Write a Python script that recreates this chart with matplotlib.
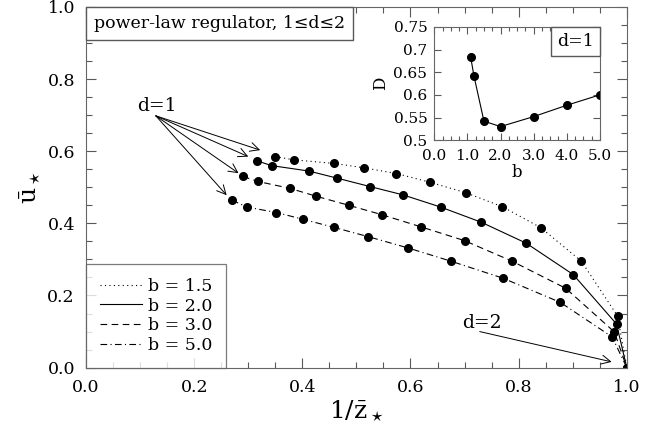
import matplotlib
matplotlib.use("Agg")
import matplotlib.pyplot as plt
from matplotlib.offsetbox import AnchoredText
from matplotlib.ticker import MultipleLocator

# main panel: 1/z* vs u*, one curve per b
b15_x = [0.350, 0.384, 0.459, 0.514, 0.574, 0.636, 0.702, 0.770, 0.841, 0.916, 0.983, 1.0]
b15_y = [0.585, 0.576, 0.566, 0.554, 0.538, 0.514, 0.485, 0.446, 0.388, 0.295, 0.143, 0.0]
b20_x = [0.317, 0.343, 0.412, 0.465, 0.525, 0.586, 0.656, 0.731, 0.814, 0.901, 0.981, 1.0]
b20_y = [0.573, 0.560, 0.545, 0.525, 0.502, 0.479, 0.445, 0.403, 0.345, 0.258, 0.121, 0.0]
b30_x = [0.290, 0.318, 0.377, 0.426, 0.486, 0.547, 0.620, 0.700, 0.788, 0.887, 0.977, 1.0]
b30_y = [0.530, 0.516, 0.497, 0.475, 0.450, 0.424, 0.390, 0.352, 0.295, 0.220, 0.099, 0.0]
b50_x = [0.270, 0.298, 0.352, 0.402, 0.458, 0.522, 0.595, 0.675, 0.771, 0.877, 0.973, 1.0]
b50_y = [0.464, 0.445, 0.430, 0.411, 0.389, 0.363, 0.332, 0.295, 0.248, 0.181, 0.085, 0.0]
labels = ["b = 1.5", "b = 2.0", "b = 3.0", "b = 5.0"]

# inset: D vs b at d=1
b_vals = [1.1, 1.2, 1.5, 2.0, 3.0, 4.0, 5.0]
D_vals = [0.683, 0.641, 0.542, 0.530, 0.552, 0.577, 0.600]

# arrow annotations
d1_tips_x = [0.322, 0.300, 0.282, 0.260]
d1_tips_y = [0.603, 0.585, 0.539, 0.478]

plt.rcParams["font.family"] = "DejaVu Serif"
plt.rcParams["mathtext.fontset"] = "dejavuserif"

fig = plt.figure(figsize=(6.57, 4.30), dpi=100)
ax = fig.add_axes([0.131, 0.145, 0.823, 0.839])

series = [(b15_x, b15_y, (0, (1, 3))), (b20_x, b20_y, "-"),
          (b30_x, b30_y, (0, (6, 4))), (b50_x, b50_y, (0, (6, 3, 1, 3)))]
for (xs, ys, ls), lab in zip(series, labels):
    ax.plot(xs, ys, color="k", lw=0.8, ls=ls, label=lab)
    ax.plot(xs, ys, "o", color="k", ms=5.5, ls="none")

ax.set_xlim(0, 1)
ax.set_ylim(0, 1)
ax.xaxis.set_major_locator(MultipleLocator(0.2))
ax.xaxis.set_minor_locator(MultipleLocator(0.05))
ax.yaxis.set_major_locator(MultipleLocator(0.2))
ax.yaxis.set_minor_locator(MultipleLocator(0.05))
ax.xaxis.set_major_formatter(lambda v, p: f"{v:.1f}")
ax.yaxis.set_major_formatter(lambda v, p: f"{v:.1f}")
ax.tick_params(which="both", direction="in", top=True, right=True, labelsize=12.5,
               color="0.35", pad=8)
ax.tick_params(which="major", length=7, width=0.8)
ax.tick_params(which="minor", length=4, width=0.8)
for s in ax.spines.values():
    s.set_color("0.4")
ax.set_xlabel(r"$1/\bar{\mathrm{z}}_\star$", fontsize=18, labelpad=2)
ax.set_ylabel(r"$\bar{\mathrm{u}}_\star$", fontsize=18, labelpad=4)

leg = ax.legend(loc="lower left", borderaxespad=0, fancybox=False, fontsize=12.5,
                handlelength=2.4, labelspacing=0.15, borderpad=0.8, handletextpad=0.35)
leg.get_frame().set_edgecolor("0.35")
leg.get_frame().set_linewidth(0.9)

tb = AnchoredText("power-law regulator, 1\u2264d\u22642", loc="upper left", borderpad=0,
                  prop=dict(size=12.5), pad=0.45)
tb.patch.set_boxstyle("square,pad=0")
tb.patch.set_edgecolor("0.35")
ax.add_artist(tb)

ax.text(0.131, 0.700, "d=1", ha="center", va="bottom", fontsize=13.5)
for tx, ty in zip(d1_tips_x, d1_tips_y):
    ax.annotate("", xy=(tx, ty), xytext=(0.129, 0.698),
                arrowprops=dict(arrowstyle="->", lw=0.7, mutation_scale=16, shrinkA=0, shrinkB=0))
ax.text(0.732, 0.098, "d=2", ha="center", va="bottom", fontsize=13.5)
ax.annotate("", xy=(0.972, 0.016), xytext=(0.728, 0.100),
            arrowprops=dict(arrowstyle="->", lw=0.7, mutation_scale=16, shrinkA=0, shrinkB=0))

# inset
ins = fig.add_axes([0.661, 0.674, 0.252, 0.2635])
ins.plot(b_vals, D_vals, "-o", color="k", lw=0.8, ms=5.5)
ins.set_xlim(0, 5)
ins.set_ylim(0.5, 0.75)
ins.xaxis.set_minor_locator(MultipleLocator(0.25))
ins.set_xticks([0, 1, 2, 3, 4, 5])
ins.set_xticklabels(["0.0", "1.0", "2.0", "3.0", "4.0", "5.0"])
ins.set_yticks([0.5, 0.55, 0.6, 0.65, 0.7, 0.75])
ins.set_yticklabels(["0.5", "0.55", "0.6", "0.65", "0.7", "0.75"])
ins.tick_params(which="both", direction="in", top=True, right=True, labelsize=11, color="0.35")
ins.tick_params(axis="x", pad=6)
ins.tick_params(axis="y", pad=5)
ins.tick_params(which="major", length=5, width=0.8)
ins.tick_params(which="minor", length=3, width=0.8)
for s in ins.spines.values():
    s.set_color("0.4")
ins.set_xlabel("b", fontsize=12, labelpad=1)
ins.set_ylabel("D", fontsize=12, labelpad=3)

ib = AnchoredText("d=1", loc="upper right", borderpad=0, prop=dict(size=12.5), pad=0.35)
ib.patch.set_boxstyle("square,pad=0")
ib.patch.set_edgecolor("0.35")
ins.add_artist(ib)

fig.savefig("out.png", dpi=100)
